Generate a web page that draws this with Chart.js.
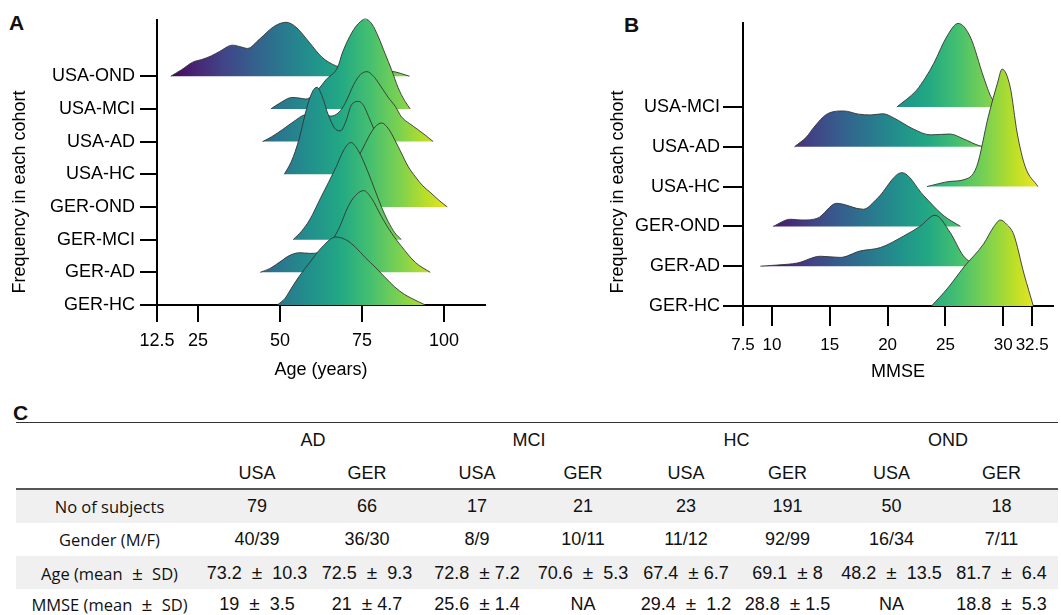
<!DOCTYPE html>
<html>
<head>
<meta charset="utf-8">
<script src="https://cdn.jsdelivr.net/npm/chart.js@4/dist/chart.umd.min.js"></script>
<style>
  body { margin: 0; background: #fff; width: 1061px; height: 615px; overflow: hidden; position: relative;
         font-family: "Liberation Sans", Arial, sans-serif; color: #111; }
  canvas { position: absolute; top: 0; }
  .panel { position: absolute; font-weight: bold; font-size: 21px; line-height: 1; }
  #tbl { position: absolute; left: 16px; top: 422px; width: 1042px; }
  table { border-collapse: collapse; width: 100%; table-layout: fixed; border-top: 1.5px solid #333; }
  th, td { text-align: center; padding: 0; font-weight: normal; font-size: 18px; white-space: nowrap; }
  tr.grp th { height: 35px; }
  tr.site th { height: 30px; border-bottom: 2px solid #555; }
  tbody td { height: 33px; }
  tbody tr:nth-child(odd) td { background: #f0f0f0; }
  tbody tr:last-child td { height: 30px; }
  td.lab { font-family: "Open Sans", sans-serif; font-size: 16.5px; }
  .pm { margin: 0 5px; font-size: 19px; }
</style>
</head>
<body>
<div class="panel" style="left:9px;top:12px">A</div>
<div class="panel" style="left:624px;top:14px">B</div>
<div class="panel" style="left:13px;top:402px">C</div>
<canvas id="ageChart" width="500" height="395" style="left:0"></canvas>
<canvas id="mmseChart" width="471" height="395" style="left:590px"></canvas>
<div id="tbl"></div>
<script>
// cohorts, bottom ridge first (index = baseline of the ridge)
var ageCohorts = ['GER-HC', 'GER-AD', 'GER-MCI', 'GER-OND', 'USA-HC', 'USA-AD', 'USA-MCI', 'USA-OND'];
var ageTicks = [12.5, 25, 50, 75, 100];

// [age, density height]
var gerHCAge = [[49.2,0],[51.5,0.2],[53.7,0.55],[56,0.9],[58.9,1.28],[62.8,1.77],[67,2.08],[70,2.0],[73,1.77],[76,1.45],[79,1.16],[82,0.85],[85,0.55],[88,0.32],[90,0.21],[94.3,0]];
var gerADAge = [[44,0],[47,0.12],[50,0.32],[53,0.52],[56,0.6],[59,0.58],[62,0.6],[65,0.85],[68,1.35],[70.8,2.02],[73,2.35],[75.5,2.5],[78,2.25],[80.9,1.71],[84,1.2],[87,0.8],[91.3,0.3],[95.8,0]];
var gerMCIAge = [[54,0],[56.5,0.25],[59,0.6],[62.5,1.3],[67,2.2],[69.5,2.75],[71.6,2.97],[74,2.7],[76.9,2.05],[79,1.5],[80.9,1.01],[83,0.55],[85,0.21],[87,0]];
var gerONDAge = [[62,0],[64,0.15],[67,0.45],[70,0.95],[73,1.4],[75,1.74],[77,2.14],[79,2.45],[81,2.57],[83,2.4],[85,2.05],[87,1.65],[89,1.25],[91.3,0.92],[93.5,0.65],[96,0.43],[98.5,0.2],[101,0]];
var usaHCAge = [[51.3,0],[53.5,0.4],[55.8,1.07],[58.3,2.08],[60,2.55],[61.3,2.66],[62.8,2.4],[64.9,1.77],[67.3,1.35],[68.5,1.33],[70,1.6],[71.9,2.14],[74,2.23],[75.5,2.1],[77,1.77],[80,1.07],[83,0.5],[85.5,0.15],[88,0]];
var usaADAge = [[44.7,0],[47.5,0.15],[50.8,0.37],[54,0.6],[57.9,0.83],[62,0.85],[65.5,0.78],[68,0.9],[70,1.2],[72.5,1.75],[74.5,2.05],[76.5,2.14],[78.5,2.0],[80,1.8],[83,1.35],[85.2,1.07],[87,0.76],[89.5,0.55],[92,0.37],[94.5,0.18],[96.7,0]];
var usaMCIAge = [[47.2,0],[50,0.18],[53.7,0.35],[56,0.33],[57.9,0.3],[60,0.42],[62.5,0.7],[64,0.89],[67.6,1.28],[69,1.71],[72,2.35],[74,2.62],[76,2.75],[78,2.6],[80,2.2],[82,1.7],[84,1.2],[86,0.65],[88,0.25],[89.7,0]];
var usaONDAge = [[16.7,0],[20,0.2],[23.4,0.43],[26.4,0.52],[29,0.62],[31.6,0.76],[35.5,0.95],[38,0.9],[40.1,0.85],[43.7,1.13],[48.3,1.53],[51.9,1.65],[54.9,1.5],[58.9,1.04],[62.8,0.58],[67,0.32],[72,0.2],[78,0.17],[84,0.15],[89.5,0]];

var mmseCohorts = ['GER-HC', 'GER-AD', 'GER-OND', 'USA-HC', 'USA-AD', 'USA-MCI'];
var mmseTicks = [7.5, 10, 15, 20, 25, 30, 32.5];

// [MMSE, density height]
var gerHCMmse = [[23.8,0],[25.2,0.45],[26.6,0.98],[28.3,1.56],[29.2,2.0],[29.75,2.16],[30.3,2.05],[30.9,1.8],[31.8,0.8],[32.6,0]];
var gerADMmse = [[9,0],[10.5,0.03],[12.2,0.08],[14.2,0.25],[15.9,0.22],[17.6,0.38],[19.4,0.47],[21.4,0.76],[22.8,1.0],[24.1,1.28],[25.4,0.85],[26.55,0.26],[27.7,0]];
var gerONDMmse = [[10.1,0],[11.6,0.18],[12.6,0.16],[13.9,0.2],[15.6,0.58],[17.9,0.43],[19.1,0.7],[21.25,1.35],[23.1,0.78],[24.8,0.28],[26.3,0]];
var usaHCMmse = [[23.4,0],[25.4,0.13],[26.55,0.17],[27.7,0.5],[28.7,1.75],[29.5,2.6],[29.9,2.95],[30.6,2.5],[31.2,1.35],[31.9,0.5],[33,0]];
var usaADMmse = [[11.95,0],[13,0.25],[13.6,0.48],[14.75,0.82],[16.2,0.9],[17.5,0.82],[18.5,0.8],[19.6,0.83],[20.5,0.73],[22.2,0.45],[23.7,0.3],[25.4,0.32],[26.55,0.2],[28,0.02],[28.5,0]];
var usaMCIMmse = [[20.8,0],[22.5,0.42],[23.3,0.75],[24,1.1],[25.1,1.76],[26.1,2.1],[27.15,1.76],[28.3,0.75],[29,0.22],[29.8,0]];

// table
var groups = ['AD', 'MCI', 'HC', 'OND'];
var sites = ['USA', 'GER'];
var rowLabels = ['No of subjects', 'Gender (M/F)', 'Age (mean ± SD)', 'MMSE (mean ± SD)'];
var nSubjects = ['79', '66', '17', '21', '23', '191', '50', '18'];
var gender = ['40/39', '36/30', '8/9', '10/11', '11/12', '92/99', '16/34', '7/11'];
var ageStats = ['73.2 ± 10.3', '72.5 ± 9.3', '72.8 ±7.2', '70.6 ± 5.3', '67.4 ±6.7', '69.1 ±8', '48.2 ± 13.5', '81.7 ± 6.4'];
var mmseStats = ['19 ± 3.5', '21 ±4.7', '25.6 ±1.4', 'NA', '29.4 ± 1.2', '28.8 ±1.5', 'NA', '18.8 ± 5.3'];

var viridis = ['#440154', '#482475', '#414487', '#355f8d', '#2a788e', '#21918c', '#22a884', '#44bf70', '#7ad151', '#bddf26', '#fde725'];

Chart.defaults.font.family = '"Liberation Sans", Arial, sans-serif';
Chart.defaults.font.size = 18;
Chart.defaults.color = '#000';

function viridisFill(lo, hi) {
    return function (c) {
        var chart = c.chart;
        var xs = chart.scales.x;
        if (!xs || !chart.chartArea) return '#21918c';
        var g = chart.ctx.createLinearGradient(xs.getPixelForValue(lo), 0, xs.getPixelForValue(hi), 0);
        viridis.forEach(function (col, i) { g.addColorStop(i / (viridis.length - 1), col); });
        return g;
    };
}

// rotated y title, placed where the figure has it
var sideTitle = {
    id: 'sideTitle',
    afterDraw: function (chart, args, opts) {
        var c = chart.ctx;
        c.save();
        c.translate(opts.x, opts.y);
        c.rotate(-Math.PI / 2);
        c.font = '18px "Liberation Sans", Arial, sans-serif';
        c.fillStyle = '#000';
        c.textAlign = 'center';
        c.textBaseline = 'middle';
        c.fillText(opts.text, 0, 0);
        c.restore();
    }
};

function ridgeChart(id, o) {
    var datasets = o.series.map(function (pts, i) {
        return {
            data: pts.map(function (p) { return {x: p[0], y: i + p[1]}; }),
            fill: {value: i},
            backgroundColor: viridisFill(o.colorLo, o.colorHi),
            borderColor: '#333',
            borderWidth: 0.9,
            pointRadius: 0,
            cubicInterpolationMode: 'monotone',
            clip: false
        };
    });
    return new Chart(document.getElementById(id), {
        type: 'line',
        data: {datasets: datasets},
        options: {
            responsive: false,
            animation: false,
            events: [],
            layout: {padding: {top: o.top, right: o.right, left: 0, bottom: 0}},
            plugins: {
                legend: {display: false},
                tooltip: {enabled: false},
                sideTitle: {text: 'Frequency in each cohort', x: o.titleX, y: 192}
            },
            scales: {
                x: {
                    type: 'linear', min: o.xMin, max: o.xMax,
                    afterBuildTicks: function (s) { s.ticks = o.xTicks.map(function (v) { return {value: v}; }); },
                    afterFit: function (s) { s.height = o.xH; },
                    grid: {drawOnChartArea: false, color: '#000', lineWidth: 2, tickLength: o.xTickLen},
                    border: {color: '#000', width: 2},
                    ticks: {autoSkip: false, maxRotation: 0, padding: o.xPad, font: {size: o.xFont},
                            callback: function (v) { return String(v); }},
                    title: {display: true, text: o.xTitle, padding: {top: 0, bottom: o.titlePad}}
                },
                y: {
                    type: 'linear', min: 0, max: o.yMax,
                    afterBuildTicks: function (s) { s.ticks = o.labels.map(function (_, i) { return {value: i}; }); },
                    afterFit: function (s) { s.width = o.yW; },
                    grid: {drawOnChartArea: false, color: '#000', lineWidth: 2, tickLength: o.yTickLen},
                    border: {color: '#000', width: 2},
                    ticks: {autoSkip: false, padding: o.yPad, callback: function (v) { return o.labels[v]; }}
                }
            }
        },
        plugins: [sideTitle]
    });
}

ridgeChart('ageChart', {
    series: [gerHCAge, gerADAge, gerMCIAge, gerONDAge, usaHCAge, usaADAge, usaMCIAge, usaONDAge],
    labels: ageCohorts, xTicks: ageTicks, xMin: 12.5, xMax: 112.5, yMax: 8.72,
    colorLo: 15, colorHi: 104, top: 20, right: 15, yW: 157, xH: 90,
    xTickLen: 17, yTickLen: 17, xPad: 8, yPad: 5, titlePad: 14, xFont: 18,
    xTitle: 'Age (years)', titleX: 20
});

ridgeChart('mmseChart', {
    series: [gerHCMmse, gerADMmse, gerONDMmse, usaHCMmse, usaADMmse, usaMCIMmse],
    labels: mmseCohorts, xTicks: mmseTicks, xMin: 7.5, xMax: 34.3, yMax: 7.11,
    colorLo: 8.5, colorHi: 33.5, top: 23, right: 8, yW: 153, xH: 89,
    xTickLen: 20, yTickLen: 20, xPad: 9, yPad: 3, titlePad: 12, xFont: 17,
    xTitle: 'MMSE', titleX: 28
});

// table C
function cell(txt) {
    return txt.replace('±', '<span class="pm">±</span>');
}
var widths = [187, 108, 112, 108, 104, 102, 101, 107, 113];
var html = '<table><colgroup>' + widths.map(function (w) { return '<col style="width:' + w + 'px">'; }).join('') + '</colgroup>';
html += '<thead><tr class="grp"><th></th>' + groups.map(function (g) { return '<th colspan="2">' + g + '</th>'; }).join('') + '</tr>';
html += '<tr class="site"><th></th>' + groups.map(function () { return sites.map(function (s) { return '<th>' + s + '</th>'; }).join(''); }).join('') + '</tr></thead><tbody>';
[nSubjects, gender, ageStats, mmseStats].forEach(function (row, r) {
    html += '<tr><td class="lab">' + cell(rowLabels[r]) + '</td>' + row.map(function (v) { return '<td>' + cell(v) + '</td>'; }).join('') + '</tr>';
});
html += '</tbody></table>';
document.getElementById('tbl').innerHTML = html;
</script>
</body>
</html>
